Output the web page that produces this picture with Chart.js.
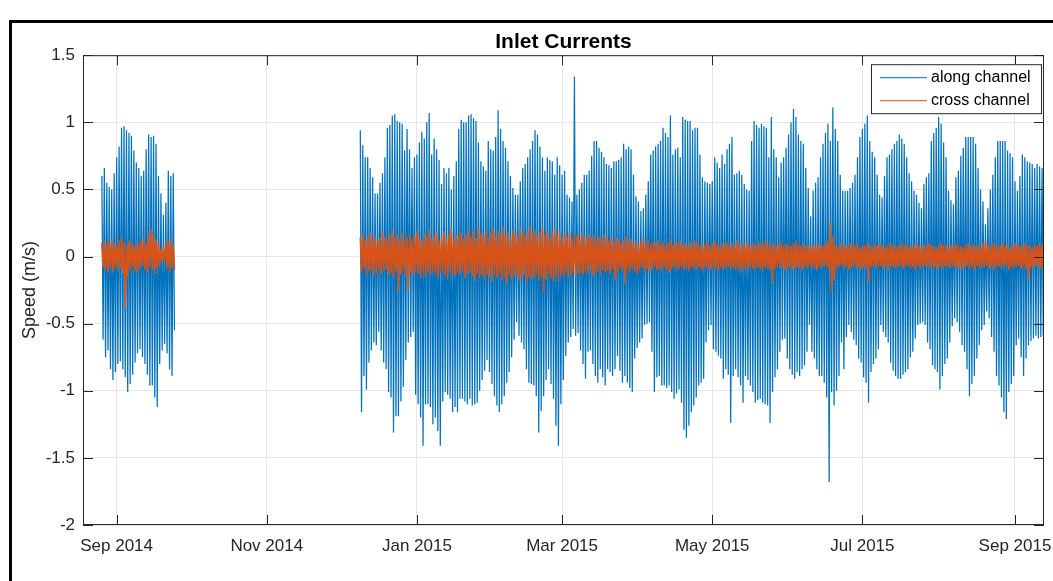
<!DOCTYPE html>
<html>
<head>
<meta charset="utf-8">
<title>Inlet Currents</title>
<script src="https://cdn.jsdelivr.net/npm/chart.js@4.4.1/dist/chart.umd.min.js"></script>
<style>
  html, body { margin: 0; padding: 0; background: #fff; overflow: hidden; }
  #wrap { position: relative; width: 1053px; height: 581px; }
  #frame { position: absolute; left: 9px; top: 20px; width: 2000px; height: 2000px; border: 3px solid #000; box-sizing: border-box; }
  #chart { position: absolute; left: 0; top: 0; }
</style>
</head>
<body>
<div id="wrap">
  <div id="frame"></div>
  <canvas id="chart" width="1053" height="581"></canvas>
</div>
<script>
// x axis ticks
const tickDates = ["2014-09-01", "2014-11-01", "2015-01-01", "2015-03-01", "2015-05-01", "2015-07-01", "2015-09-01"]
const tickLabels = ["Sep 2014", "Nov 2014", "Jan 2015", "Mar 2015", "May 2015", "Jul 2015", "Sep 2015"]
const xRange = ["2014-08-18T08:00Z", "2015-09-12T19:00Z"]

// two deployments, one flood peak and one ebb peak per day (m/s)
const start1 = "2014-08-26"
const start2 = "2014-12-09"

const alongHi1 = [.60,.66,.55,.52,.50,.62,.74,.82,.96,.97, .94,.92,.90,.79,.70,.66,.60,.64,.80,.91, .89,.90,.84,.60,.47,.31,.40,.64,.60,.62]
const alongLo1 = [-.62,-.75,-.70,-.84,-.92,-.86,-.80,-.78,-.84,-.90, -1.01,-.95,-.88,-.79,-.72,-.69,-.75,-.80,-.88,-.96, -.96,-1.05,-1.12,-.80,-.70,-.65,-.72,-.84,-.89,-.55]
const crossHi1 = [.10,.12,.09,.11,.13,.10,.08,.12,.15,.11, .09,.12,.10,.08,.11,.09,.12,.14,.10,.17, .21,.16,.13,.10,.06,.05,.12,.10,.14,.09]
const crossLo1 = [-.08,-.10,-.12,-.09,-.11,-.08,-.10,-.09,-.13,-.39, -.15,-.10,-.08,-.11,-.12,-.09,-.07,-.10,-.12,-.08, -.10,-.13,-.09,-.07,-.04,-.03,-.09,-.12,-.08,-.10]

const alongHi2 = [
  .94,.83,.74,.74,.66,.59,.47,.47,.55,.62, .74,.96,.98,1.05,1.06,1.01,1.00,.99,.79,.95,
  .80,.66,.74,.76,.85,.93,.88,1.00,1.07,.76, .88,.80,.72,.54,.66,.62,.66,.50,.60,.71,
  .95,1.02,1.00,1.00,1.05,1.06,1.03,1.01,.85,.71, .67,.64,.86,.80,.79,.89,1.09,.95,.86,.81,
  .71,.60,.51,.46,.46,.56,.66,.69,.74,.80, .86,.94,.91,.82,.74,.64,.74,.72,.71,.61,
  .74,.68,.61,.64,.46,.44,.41,1.34,.46,.50, .55,.61,.61,.64,.75,.86,.86,.81,.78,.74,
  .69,.68,.66,.71,.71,.72,.74,.84,.80,.82, .80,.61,.45,.41,.34,.36,.46,.56,.76,.79,
  .82,.84,.86,.96,.92,.89,1.05,.76,.80,.81, .74,1.04,1.02,1.01,1.01,.94,.96,.96,.76,.59,
  .56,.55,.54,.56,.74,.70,.66,.76,.69,.80, .84,.89,.61,.62,.64,.61,.54,.50,.49,.86,
  1.01,.98,.96,.99,.97,.96,.74,1.04,.80,.74, .59,.70,.74,.81,.91,1.00,1.10,1.04,.91,.86,
  .84,.66,.51,.30,.49,.55,.59,.74,.84,.92, .99,.86,1.11,.95,.86,.61,.49,.49,.49,.51,
  .55,.61,.74,.89,.95,.99,1.05,.86,.78,.74, .61,.46,.44,.60,.74,.76,.80,.84,.86,.91,
  .88,.84,.74,.62,.56,.49,.46,.40,.36,.54, .59,.62,.86,.92,.96,1.04,.99,.85,.74,.49,
  .42,.39,.59,.64,.75,.81,.89,.89,.89,.89, .84,.66,.50,.41,.24,.36,.50,.61,.74,.86,
  .86,.86,.86,.79,.77,.74,.56,.49,.60,.76, .74,.71,.70,.69,.66,.69,.67,.66
]
const alongLo2 = [
  -1.16,-.89,-.99,-.79,-.70,-.64,-.66,-.56,-.70,-.79, -.84,-1.01,-1.05,-1.31,-1.19,-1.19,-1.08,-.97,-.77,-.64,
  -.60,-.56,-1.03,-1.10,-1.20,-1.41,-1.10,-1.10,-1.12,-1.25, -1.20,-1.30,-1.41,-1.08,-1.01,-1.03,-1.06,-1.16,-1.12,-1.16,
  -1.06,-1.06,-1.08,-1.10,-1.06,-1.11,-1.10,-1.09,-1.00,-.92, -.85,-.77,-.86,-.95,-1.04,-1.11,-1.16,-1.10,-1.04,-.94,
  -.86,-.75,-.62,-.49,-.59,-.64,-.69,-.84,-.94,-.95, -.96,-1.04,-1.31,-1.15,-1.04,-.92,-.84,-.95,-1.06,-1.26,
  -1.41,-1.10,-.92,-.74,-.64,-.60,-.54,-.59,-.57,-.70, -.80,-.91,-.71,-.70,-.80,-.89,-.94,-.84,-.90,-.96,
  -.84,-.86,-.89,-.84,-.74,-.85,-.94,-.89,-.94,-.98, -1.01,-.76,-.68,-.64,-.61,-.51,-.50,-.49,-.71,-1.01,
  -.90,-.89,-.96,-.96,-.98,-.96,-1.01,-1.06,-1.02,-.99, -1.09,-1.29,-1.35,-1.26,-1.16,-1.11,-1.05,-.96,-.94,-.91,
  -.64,-.55,-.51,-.69,-.71,-.74,-.76,-.91,-.84,-.88, -1.24,-.89,-.84,-.90,-.96,-1.09,-.89,-.92,-.96,-1.01,
  -1.09,-1.07,-1.06,-1.09,-1.10,-1.11,-1.24,-1.01,-.90,-.84, -.71,-.62,-.61,-.76,-.84,-.88,-.91,-.86,-.89,-.84,
  -.81,-.71,-.51,-.71,-.76,-.84,-.89,-.89,-.94,-1.05, -1.68,-1.01,-1.11,-1.00,-.89,-.64,-.84,-.60,-.51,-.56,
  -.62,-.66,-.76,-.79,-.90,-.94,-1.09,-.86,-.80,-.76, -.69,-.51,-.56,-.60,-.64,-.79,-.85,-.89,-.91,-.91,
  -.88,-.86,-.84,-.75,-.71,-.61,-.51,-.50,-.49,-.51, -.64,-.69,-.81,-.84,-.86,-.99,-.89,-.80,-.76,-.64,
  -.52,-.46,-.49,-.56,-.66,-.71,-.84,-1.04,-.95,-.89, -.76,-.66,-.55,-.51,-.41,-.46,-.60,-.71,-.89,-.96,
  -1.05,-1.16,-1.21,-1.01,-.95,-.89,-.66,-.61,-.75,-.89, -.76,-.66,-.63,-.61,-.59,-.61,-.60,-.59
]
const crossHi2 = [
  .14,.17,.12,.15,.18,.13,.16,.11,.14,.19, .15,.12,.17,.20,.14,.16,.13,.18,.12,.15,
  .17,.13,.16,.19,.14,.12,.17,.15,.20,.13, .16,.18,.12,.15,.19,.14,.17,.21,.13,.16,
  .15,.18,.13,.17,.20,.15,.19,.14,.22,.17, .16,.20,.14,.18,.21,.15,.19,.17,.22,.16,
  .18,.14,.20,.17,.15,.21,.18,.16,.19,.23, .17,.20,.15,.18,.22,.16,.19,.14,.18,.21,
  .16,.19,.14,.17,.15,.18,.13,.17,.16,.14, .18,.15,.13,.17,.14,.16,.12,.15,.13,.17,
  .14,.12,.15,.11,.14,.13,.10,.12,.15,.11, .13,.10,.12,.09,.11,.14,.10,.12,.09,.11,
  .10,.12,.09,.11,.08,.10,.13,.09,.11,.10, .12,.09,.10,.08,.11,.09,.12,.10,.08,.10,
  .09,.11,.08,.10,.12,.09,.08,.10,.09,.11, .08,.10,.09,.12,.08,.10,.09,.11,.08,.09,
  .10,.08,.11,.09,.10,.12,.08,.09,.10,.08, .09,.11,.08,.10,.09,.08,.10,.12,.09,.08,
  .10,.08,.09,.07,.09,.08,.10,.09,.08,.10, .12,.26,.15,.09,.08,.10,.07,.09,.08,.10,
  .09,.08,.10,.07,.09,.08,.10,.09,.07,.09, .08,.10,.09,.07,.08,.10,.09,.08,.07,.09,
  .10,.08,.09,.07,.08,.09,.10,.08,.07,.09, .08,.10,.09,.08,.07,.09,.10,.08,.09,.07,
  .09,.08,.10,.09,.08,.07,.09,.10,.08,.09, .08,.09,.07,.10,.12,.09,.08,.10,.09,.08,
  .09,.10,.08,.09,.07,.08,.10,.09,.08,.09, .10,.08,.09,.07,.09,.08,.10,.09
]
const crossLo2 = [
  -.12,-.09,-.14,-.11,-.10,-.15,-.12,-.09,-.13,-.11, -.10,-.14,-.12,-.16,-.11,-.26,-.13,-.10,-.15,-.25,
  -.12,-.14,-.11,-.13,-.16,-.10,-.15,-.12,-.14,-.11, -.13,-.16,-.12,-.10,-.14,-.17,-.11,-.13,-.15,-.12,
  -.14,-.11,-.16,-.13,-.12,-.15,-.18,-.13,-.16,-.14, -.17,-.13,-.15,-.19,-.14,-.16,-.13,-.18,-.15,-.20,
  -.14,-.17,-.15,-.13,-.18,-.16,-.14,-.19,-.15,-.17, -.16,-.14,-.18,-.15,-.26,-.17,-.13,-.16,-.19,-.14,
  -.17,-.13,-.15,-.12,-.16,-.14,-.11,-.15,-.13,-.12, -.14,-.11,-.13,-.10,-.15,-.12,-.11,-.14,-.10,-.12,
  -.11,-.13,-.10,-.18,-.12,-.09,-.11,-.20,-.10,-.12, -.09,-.11,-.13,-.10,-.08,-.12,-.09,-.11,-.10,-.08,
  -.10,-.09,-.11,-.08,-.10,-.12,-.09,-.08,-.10,-.09, -.08,-.10,-.09,-.11,-.08,-.09,-.10,-.08,-.09,-.11,
  -.08,-.09,-.10,-.08,-.09,-.11,-.08,-.10,-.09,-.08, -.09,-.08,-.10,-.09,-.12,-.08,-.09,-.10,-.08,-.09,
  -.10,-.08,-.09,-.11,-.08,-.09,-.10,-.20,-.09,-.08, -.09,-.08,-.10,-.09,-.08,-.10,-.09,-.08,-.09,-.10,
  -.08,-.09,-.07,-.08,-.09,-.10,-.08,-.09,-.07,-.08, -.10,-.26,-.18,-.09,-.08,-.07,-.09,-.08,-.10,-.08,
  -.07,-.09,-.08,-.10,-.08,-.09,-.20,-.08,-.07,-.09, -.08,-.07,-.09,-.08,-.10,-.07,-.08,-.09,-.08,-.07,
  -.09,-.08,-.07,-.09,-.08,-.10,-.07,-.09,-.08,-.07, -.08,-.09,-.07,-.08,-.10,-.08,-.09,-.07,-.08,-.09,
  -.08,-.07,-.09,-.08,-.10,-.08,-.07,-.09,-.08,-.10, -.07,-.08,-.09,-.08,-.07,-.09,-.08,-.10,-.08,-.07,
  -.09,-.08,-.07,-.10,-.08,-.09,-.08,-.07,-.09,-.08, -.10,-.17,-.08,-.09,-.07,-.08,-.09,-.08
]

const DAY = 86400000
const FONT = "'Liberation Sans', Arial, Helvetica, sans-serif"
const BLUE = "#0072BD"
const ORANGE = "#D95319"
const TICK = 10

// flood peak at the start of each day, ebb peak half a day later
function buildSeries(segments) {
  const pts = []
  segments.forEach((seg, k) => {
    const t0 = Date.parse(seg.start)
    if (k > 0) pts.push({ x: t0 - DAY, y: null })
    seg.hi.forEach((v, i) => {
      pts.push({ x: t0 + i * DAY, y: v })
      pts.push({ x: t0 + (i + 0.5) * DAY, y: seg.lo[i] })
    })
  })
  return pts
}

const along = buildSeries([
  { start: start1, hi: alongHi1, lo: alongLo1 },
  { start: start2, hi: alongHi2, lo: alongLo2 }
])
const cross = buildSeries([
  { start: start1, hi: crossHi1, lo: crossLo1 },
  { start: start2, hi: crossHi2, lo: crossLo2 }
])

// axes box, inward ticks and the legend inside the plot
const boxPlugin = {
  id: "box",
  afterDatasetsDraw(chart) {
    const { ctx, chartArea: a, scales } = chart
    const xs = scales.x, ys = scales.y
    ctx.save()
    ctx.strokeStyle = "#262626"
    ctx.lineWidth = 1
    ctx.strokeRect(a.left + 0.5, a.top + 0.5, a.right - a.left - 1, a.bottom - a.top - 1)
    ctx.beginPath()
    xs.ticks.forEach(t => {
      const px = Math.round(xs.getPixelForValue(t.value)) + 0.5
      ctx.moveTo(px, a.bottom); ctx.lineTo(px, a.bottom - TICK)
      ctx.moveTo(px, a.top); ctx.lineTo(px, a.top + TICK)
    })
    ys.ticks.forEach(t => {
      const py = Math.round(ys.getPixelForValue(t.value)) + 0.5
      ctx.moveTo(a.left, py); ctx.lineTo(a.left + TICK, py)
      ctx.moveTo(a.right, py); ctx.lineTo(a.right - TICK, py)
    })
    ctx.stroke()

    // legend
    const w = 170, h = 49
    const bx = a.right - 3 - w, by = a.top + 9
    ctx.fillStyle = "#fff"
    ctx.fillRect(bx, by, w, h)
    ctx.strokeStyle = "#262626"
    ctx.strokeRect(bx + 0.5, by + 0.5, w, h)
    ctx.font = "16px " + FONT
    ctx.textBaseline = "middle"
    chart.data.datasets.forEach((ds, i) => {
      const cy = by + 13 + i * 23
      ctx.strokeStyle = ds.borderColor
      ctx.lineWidth = 1
      ctx.beginPath()
      ctx.moveTo(bx + 9, cy + 0.5); ctx.lineTo(bx + 56, cy + 0.5)
      ctx.stroke()
      ctx.fillStyle = "#000"
      ctx.fillText(ds.label, bx + 60, cy)
    })
    ctx.restore()
  }
}

new Chart(document.getElementById("chart"), {
  type: "line",
  data: {
    datasets: [
      { label: "along channel", data: along, borderColor: BLUE, borderWidth: 1.25, pointRadius: 0, spanGaps: false, order: 2 },
      { label: "cross channel", data: cross, borderColor: ORANGE, borderWidth: 1.5, pointRadius: 0, spanGaps: false, order: 1 }
    ]
  },
  options: {
    responsive: false,
    animation: false,
    layout: { padding: { left: 0, right: 9, top: 0, bottom: 0 } },
    plugins: {
      legend: { display: false },
      tooltip: { enabled: false },
      title: {
        display: true,
        text: "Inlet Currents",
        fullSize: false,
        color: "#000",
        font: { family: FONT, size: 21, weight: "bold" },
        padding: { top: 30, bottom: 0 }
      }
    },
    scales: {
      x: {
        type: "linear",
        min: Date.parse(xRange[0]),
        max: Date.parse(xRange[1]),
        afterBuildTicks: s => { s.ticks = tickDates.map(d => ({ value: Date.parse(d) })) },
        afterFit: s => { s.height = 56; s.paddingLeft = 0; s.paddingRight = 0 },
        grid: { color: "#e6e6e6", drawTicks: false },
        border: { display: false },
        ticks: {
          autoSkip: false,
          maxRotation: 0,
          padding: 11,
          color: "#262626",
          font: { family: FONT, size: 17 },
          callback: (v, i) => tickLabels[i]
        }
      },
      y: {
        min: -2,
        max: 1.5,
        afterFit: s => { s.width = 83 },
        grid: { color: "#e6e6e6", drawTicks: false },
        border: { display: false },
        ticks: {
          stepSize: 0.5,
          padding: 8,
          color: "#262626",
          font: { family: FONT, size: 17 },
          callback: v => String(v)
        },
        title: {
          display: true,
          text: "Speed (m/s)",
          color: "#262626",
          font: { family: FONT, size: 18 },
          padding: { top: 19, bottom: 0 }
        }
      }
    }
  },
  plugins: [boxPlugin]
})
</script>
</body>
</html>
